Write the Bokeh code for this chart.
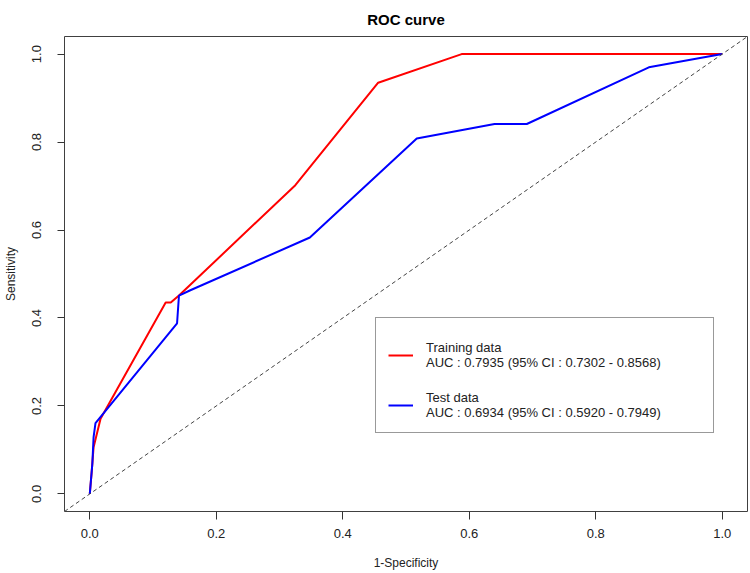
from bokeh.plotting import figure
from bokeh.models import Range1d, Legend, LegendItem, Slope, FixedTicker, PrintfTickFormatter
from bokeh.embed import file_html
from bokeh.resources import INLINE

# ---- data ----
train_fpr = [0.0, 0.003, 0.006, 0.017, 0.120, 0.128, 0.141, 0.325, 0.456, 0.588, 1.0]
train_tpr = [0.0, 0.050, 0.106, 0.171, 0.435, 0.435, 0.451, 0.702, 0.935, 1.0, 1.0]

test_fpr = [0.0, 0.004, 0.006, 0.009, 0.138, 0.141, 0.159, 0.348, 0.517, 0.640, 0.691, 0.884, 1.0]
test_tpr = [0.0, 0.068, 0.129, 0.161, 0.388, 0.451, 0.463, 0.583, 0.808, 0.841, 0.841, 0.970, 1.0]

train_label = "Training data\nAUC : 0.7935 (95% CI : 0.7302 - 0.8568)"
test_label = "Test data\nAUC : 0.6934 (95% CI : 0.5920 - 0.7949)"
title_text = "ROC curve"

x_ticks = [0.0, 0.2, 0.4, 0.6, 0.8, 1.0]
y_ticks = [0.0, 0.2, 0.4, 0.6, 0.8, 1.0]
axis_min, axis_max = -0.04, 1.04

FONT = "Liberation Sans"

p = figure(width=750, height=573, output_backend="svg", toolbar_location=None,
           x_range=Range1d(axis_min, axis_max), y_range=Range1d(axis_min, axis_max),
           min_border_left=63, min_border_right=3, min_border_top=36, min_border_bottom=62)

p.title.text = title_text
p.title.align = "center"
p.title.vertical_align = "bottom"
p.title.standoff = 17
p.title.text_line_height = 1.0
p.title.text_font = FONT
p.title.text_font_size = "15px"
p.title.text_font_style = "bold"
p.title.text_color = "black"

p.grid.visible = False
p.outline_line_color = "#404040"
p.outline_line_width = 1
p.background_fill_color = "white"
p.border_fill_color = "white"

for ax in (p.xaxis, p.yaxis):
    ax.axis_line_color = None
    ax.minor_tick_line_color = None
    ax.major_tick_in = 0
    ax.major_tick_line_color = "#333333"
    ax.major_label_text_font = FONT
    ax.major_label_text_font_size = "13px"
    ax.major_label_text_color = "#222222"
    ax.axis_label_text_font = FONT
    ax.axis_label_text_font_size = "12px"
    ax.axis_label_text_font_style = "normal"
    ax.axis_label_text_color = "#222222"
    ax.formatter = PrintfTickFormatter(format="%.1f")

p.xaxis.ticker = FixedTicker(ticks=x_ticks)
p.yaxis.ticker = FixedTicker(ticks=y_ticks)
p.xaxis.axis_label = "1-Specificity"
p.yaxis.axis_label = "Sensitivity"
p.xaxis.major_tick_out = 8
p.yaxis.major_tick_out = 7
p.xaxis.major_label_standoff = 9
p.yaxis.major_label_standoff = 16
p.xaxis.axis_label_standoff = 15
p.yaxis.axis_label_standoff = 12
p.yaxis.major_label_orientation = "vertical"

diag = Slope(gradient=1, y_intercept=0, line_color="#444444", line_width=1, line_dash="4 3")
p.add_layout(diag)

r_train = p.line(train_fpr, train_tpr, line_color="#ff0000", line_width=2)
r_test = p.line(test_fpr, test_tpr, line_color="#0000ff", line_width=2)

legend = Legend(items=[LegendItem(label=train_label, renderers=[r_train]),
                       LegendItem(label=test_label, renderers=[r_test])],
                location=(311, 78), margin=0, padding=12, spacing=20,
                title=" ", title_text_font_size="1px", title_standoff=9,
                glyph_width=25, label_standoff=13, label_width=275,
                label_text_font=FONT, label_text_font_size="13px", label_text_color="#222222",
                border_line_color="#333333", border_line_width=1,
                background_fill_color="white", background_fill_alpha=1.0)
p.add_layout(legend)

open("out.html", "w").write(file_html(p, INLINE))
